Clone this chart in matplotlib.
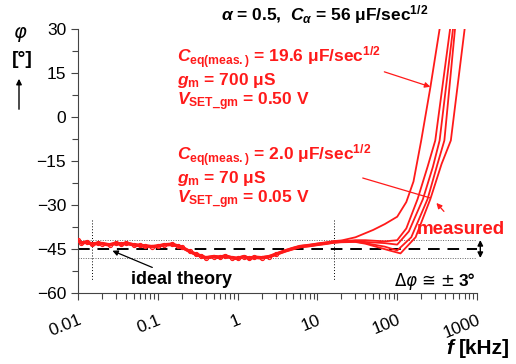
import matplotlib.pyplot as plt
import numpy as np

plt.rcParams["font.family"] = ["Liberation Sans", "DejaVu Sans"]
plt.rcParams["mathtext.fontset"] = "custom"
plt.rcParams["mathtext.rm"] = "Liberation Sans:bold"
plt.rcParams["mathtext.it"] = "Liberation Sans:bold:italic"
plt.rcParams["mathtext.bf"] = "Liberation Sans:bold"

# shared low-frequency part of the measured phase (kHz, degrees)
f_low = [0.01, 0.011, 0.013, 0.015, 0.018, 0.02, 0.025, 0.03, 0.035, 0.04,
         0.05, 0.06, 0.07, 0.085, 0.1, 0.12, 0.15, 0.18, 0.2, 0.25, 0.3,
         0.35, 0.4, 0.5, 0.6, 0.7, 0.85, 1.0, 1.2, 1.4, 1.6, 2.0, 2.5, 3.0,
         4.0, 5.0, 6.0, 8.0, 10.0, 13.0, 16.0, 20.0]
phi_low = [-42.0, -43.0, -42.6, -43.4, -43.0, -43.2, -43.6, -43.0, -43.4, -43.0,
           -43.6, -43.8, -44.0, -44.2, -44.0, -43.6, -43.4, -44.0, -44.4, -45.8, -46.8,
           -47.4, -48.0, -47.6, -47.8, -47.4, -48.0, -48.2, -47.6, -48.2, -47.8, -48.0, -47.6, -46.8,
           -45.6, -44.8, -44.2, -43.8, -43.4, -43.0, -42.6, -42.4]
# small offsets of each of the five traces in the low-frequency band
low_offsets = [0.3, 0.0, -0.2, 0.2, -0.3]

# high-frequency branches of the five traces
f_hi = [
    [30, 50, 70, 100, 130, 160, 200, 260, 340],
    [30, 40, 70, 100, 130, 180, 240, 300, 460],
    [30, 40, 70, 100, 140, 210, 280, 340, 500],
    [30, 40, 70, 100, 150, 240, 320, 390, 530],
    [30, 40, 80, 110, 170, 260, 360, 470, 700],
]
phi_hi = [
    [-41.0, -38.5, -36.5, -34.0, -29.0, -22.0, -8.0, 10.0, 30.0],
    [-42.0, -42.0, -42.4, -42.0, -38.0, -28.0, -17.0, -8.0, 30.0],
    [-42.3, -42.6, -43.0, -43.5, -39.0, -28.0, -17.0, -8.0, 30.0],
    [-42.5, -43.0, -44.2, -45.5, -41.0, -28.0, -16.0, -8.0, 30.0],
    [-42.6, -43.2, -45.5, -46.5, -41.0, -28.0, -16.0, -8.0, 30.0],
]

ideal_phi = -45
tol = 3
f_marks = [0.015, 16]

W, H = 516, 364
fig = plt.figure(figsize=(W / 100, H / 100), dpi=100)
ax = fig.add_axes([78 / W, 1 - 293 / H, (477 - 78) / W, (293 - 29) / H])


def px(x, y):
    return x / W, 1 - y / H


red = "#ff1a1a"
for k in range(5):
    f = list(f_low) + f_hi[k]
    p = [v + low_offsets[k] for v in phi_low] + phi_hi[k]
    ax.plot(f, p, color=red, lw=1.3, zorder=3)
ax.plot(f_low[:34], phi_low[:34], ls="none", marker="o", ms=3, mfc="none",
        mec=red, mew=0.8, zorder=3)

ax.axhline(ideal_phi, color="black", lw=1.4, ls=(0, (6, 4)), zorder=2)
for d in (-tol, tol):
    ax.axhline(ideal_phi + d, color="#666666", lw=0.7, ls=(0, (1, 1.5)), zorder=1)
for fm in f_marks:
    ax.plot([fm, fm], [-35, -55.5], color="black", lw=0.7, ls=(0, (1, 2)), zorder=1)

ax.set_xscale("log")
ax.set_xlim(0.01, 1000)
ax.set_ylim(-60, 30)
ax.set_yticks(np.arange(-60, 31, 15))
ax.set_yticks(np.arange(-52.5, 30, 15), minor=True)
ax.set_xticks([0.01, 0.1, 1, 10, 100, 1000])
ax.set_xticklabels(["0.01", "0.1", "1", "10", "100", "1000"], rotation=22,
                   ha="right", va="top", rotation_mode="anchor")
for s in ("top", "right"):
    ax.spines[s].set_visible(False)
for s in ("left", "bottom"):
    ax.spines[s].set_color("#444444")
    ax.spines[s].set_linewidth(0.8)
ax.tick_params(which="both", direction="out", color="#444444", width=0.8)
ax.tick_params(which="major", length=5, labelsize=12.5)
ax.tick_params(which="minor", length=4)
ax.tick_params(axis="x", which="major", pad=9)

# double arrow for tolerance band
ax.annotate("", xy=(1100, ideal_phi - tol - 1), xytext=(1100, ideal_phi + tol + 1),
            arrowprops=dict(arrowstyle="<|-|>", color="black", lw=1, mutation_scale=8),
            annotation_clip=False)
fig.text(*px(475, 282), "3°", ha="right", va="center", fontsize=12.5,
         fontweight="bold")
fig.text(*px(455, 282), "Δ$\\varphi$ ≅ ±", ha="right", va="center",
         fontsize=12, family=["DejaVu Sans"], math_fontfamily="dejavusans")

ax.annotate("ideal theory", xy=(0.027, -45.6), xytext=(0.2, -55.5),
            fontsize=13, fontweight="bold", ha="center", va="center",
            arrowprops=dict(arrowstyle="-|>", color="black", lw=0.9,
                            mutation_scale=8, shrinkA=2, shrinkB=0))
ax.annotate("measured", xy=(310, -29.3), xytext=(620, -38.5),
            fontsize=13.5, fontweight="bold", color=red, ha="center", va="center",
            annotation_clip=False,
            arrowprops=dict(arrowstyle="-|>", color=red, lw=0.9,
                            mutation_scale=8, shrinkA=7, shrinkB=0))
ax.annotate("", xy=(260, 10.3), xytext=(69, 15.4),
            arrowprops=dict(arrowstyle="-|>", color=red, lw=0.9,
                            mutation_scale=8, shrinkA=0, shrinkB=0))
ax.annotate("", xy=(260, -27.6), xytext=(37, -20.8),
            arrowprops=dict(arrowstyle="-", color=red, lw=0.9, shrinkA=0, shrinkB=0))

fig.text(*px(325, 15), r"$\alpha$ = 0.5,  $C_{\alpha}$ = 56 μF/sec$^{1/2}$",
         ha="center", va="center", fontsize=12.5, fontweight="bold")

block1 = [r"$C_{\rm eq(meas.)}$ = 19.6 μF/sec$^{1/2}$", r"$g_{\rm m}$ = 700 μS",
          r"$V_{\rm SET\_gm}$ = 0.50 V"]
block2 = [r"$C_{\rm eq(meas.)}$ = 2.0 μF/sec$^{1/2}$", r"$g_{\rm m}$ = 70 μS",
          r"$V_{\rm SET\_gm}$ = 0.05 V"]
for i, t in enumerate(block1):
    fig.text(*px(177, 58 + 22 * i), t, ha="left", va="center", fontsize=12.5,
             fontweight="bold", color=red)
for i, t in enumerate(block2):
    fig.text(*px(177, 156 + 22 * i), t, ha="left", va="center", fontsize=12.5,
             fontweight="bold", color=red)

fig.text(*px(20, 34), r"$\varphi$", ha="center", va="center", fontsize=14,
         math_fontfamily="dejavusans")
fig.text(*px(22, 59), "[°]", ha="center", va="center", fontsize=14, fontweight="bold")
fig.patches.append(plt.matplotlib.patches.FancyArrowPatch(
    px(19, 112), px(19, 76), transform=fig.transFigure, arrowstyle="-|>",
    mutation_scale=8, color="black", lw=1))

fig.text(*px(457, 348), "$f$", ha="right", va="center", fontsize=15)
fig.text(*px(459, 348), "[kHz]", ha="left", va="center", fontsize=15, fontweight="bold")

fig.savefig("out.png", dpi=100)
